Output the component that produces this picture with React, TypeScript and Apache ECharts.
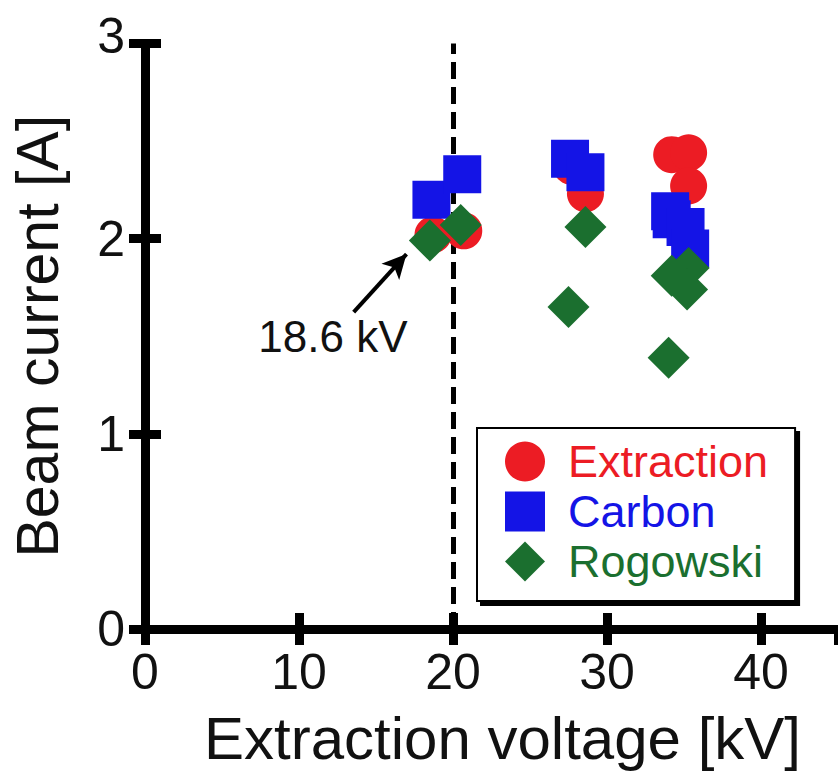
import React, { useEffect, useRef } from "react";
import * as echarts from "echarts";

const xTicks = [0, 10, 20, 30, 40];
const yTicks = [0, 1, 2, 3];

const extractionX = [18.7, 20.7, 27.7, 28.6, 34.2, 35.3, 35.3];
const extractionY = [2.02, 2.04, 2.37, 2.23, 2.43, 2.44, 2.27];

const carbonX = [18.6, 20.6, 27.6, 28.6, 34.1, 34.2, 35.1, 35.4];
const carbonY = [2.2, 2.33, 2.41, 2.34, 2.14, 2.1, 2.06, 1.95];

const rogowskiX = [18.5, 20.5, 27.5, 28.6, 34.0, 34.2, 35.3, 35.2];
const rogowskiY = [1.99, 2.07, 1.65, 2.06, 1.39, 1.81, 1.85, 1.74];

const thresholdVoltage = 20;
const arrowStart = [13.55, 1.624];
const arrowEnd = [16.98, 1.921];
const annotationPos = [12.2, 1.5];
const annotationText = "18.6 kV";

const RED = "#ec1c24";
const BLUE = "#1414e6";
const GREEN = "#1b6f2f";
const FONT = "'Liberation Sans', Arial, sans-serif";

const pairs = (xs: number[], ys: number[]) => xs.map((x, i) => [x, ys[i]]);

export default function App() {
  const ref = useRef<HTMLDivElement>(null);
  useEffect(() => {
    const chart = echarts.init(ref.current!, null, { renderer: "svg" });
    const frameLine = { show: true, lineStyle: { color: "#000", width: 9, cap: "square" } };
    const tick = { show: true, inside: true, length: 16, lineStyle: { color: "#000", width: 9 } };
    const yMax = yTicks[yTicks.length - 1];
    chart.setOption({
      animation: false,
      textStyle: { fontFamily: FONT },
      grid: { left: 145, top: 43.5, right: -1, bottom: 150, containLabel: false },
      xAxis: [
        {
          type: "value",
          min: 0,
          max: 45,
          interval: 10,
          position: "bottom",
          axisLine: frameLine,
          axisTick: tick,
          splitLine: { show: false },
          axisLabel: {
            showMaxLabel: false,
            fontSize: 50,
            color: "#111",
            margin: 18,
            fontFamily: FONT,
            formatter: (v: number) => (xTicks.includes(v) ? String(v) : ""),
          },
          name: "Extraction voltage [kV]",
          nameLocation: "middle",
          nameGap: 79,
          nameTextStyle: { fontSize: 60, color: "#111", fontFamily: FONT, padding: [0, 0, 0, 22] },
        },
        {
          type: "value",
          min: 0,
          max: 45,
          interval: 10,
          position: "top",
          axisLine: frameLine,
          axisTick: tick,
          splitLine: { show: false },
          axisLabel: { show: false },
        },
      ],
      yAxis: [
        {
          type: "value",
          min: 0,
          max: yMax,
          interval: 1,
          position: "left",
          axisLine: frameLine,
          axisTick: tick,
          splitLine: { show: false },
          axisLabel: {
            fontSize: 50,
            color: "#111",
            margin: 20,
            fontFamily: FONT,
            formatter: (v: number) =>
              yTicks.includes(v) ? (v === yMax ? "{up|" + v + "}" : String(v)) : "",
            rich: {
              up: { fontSize: 50, color: "#111", fontFamily: FONT, padding: [0, 0, 16, 0] },
            },
          },
          name: "Beam current [A]",
          nameLocation: "middle",
          nameRotate: 90,
          nameGap: 78,
          nameTextStyle: { fontSize: 59, color: "#111", fontFamily: FONT },
        },
        {
          type: "value",
          min: 0,
          max: yMax,
          interval: 1,
          position: "right",
          axisLine: frameLine,
          axisTick: tick,
          splitLine: { show: false },
          axisLabel: { show: false },
        },
      ],
      legend: {
        orient: "vertical",
        left: 477,
        top: 428,
        padding: [11, 27, 17, 28],
        itemGap: 5,
        itemWidth: 40,
        itemHeight: 40,
        selectedMode: false,
        backgroundColor: "#fff",
        borderColor: "#000",
        borderWidth: 2,
        shadowColor: "#000",
        shadowBlur: 0,
        shadowOffsetX: 4,
        shadowOffsetY: 4,
        textStyle: { fontSize: 45, fontFamily: FONT, padding: [0, 0, 0, 18] },
        data: [
          { name: "Extraction", textStyle: { color: RED } },
          { name: "Carbon", textStyle: { color: BLUE } },
          { name: "Rogowski", textStyle: { color: GREEN } },
        ],
      },
      series: [
        {
          name: "annotations",
          type: "scatter",
          data: [],
          z: 1,
          markLine: {
            z: 1,
            silent: true,
            symbol: ["none", "none"],
            label: { show: false },
            data: [
              {
                xAxis: thresholdVoltage,
                lineStyle: { color: "#000", width: 5, type: [17, 8] },
              },
              [
                {
                  coord: arrowStart,
                  symbol: "none",
                  lineStyle: { color: "#000", width: 4, type: "solid" },
                },
                { coord: arrowEnd, symbol: "arrow", symbolSize: [18, 24] },
              ],
            ],
          },
          markPoint: {
            silent: true,
            symbol: "circle",
            symbolSize: 2,
            itemStyle: { color: "rgba(0,0,0,0)" },
            data: [
              {
                coord: annotationPos,
                label: {
                  show: true,
                  position: "inside",
                  formatter: annotationText,
                  fontSize: 44,
                  color: "#111",
                  fontFamily: FONT,
                },
              },
            ],
          },
        },
        {
          name: "Extraction",
          type: "scatter",
          symbol: "circle",
          symbolSize: 37,
          itemStyle: { color: RED, opacity: 1 },
          data: pairs(extractionX, extractionY),
          z: 3,
        },
        {
          name: "Carbon",
          type: "scatter",
          symbol: "rect",
          symbolSize: 38,
          itemStyle: { color: BLUE, opacity: 1 },
          data: pairs(carbonX, carbonY),
          z: 4,
        },
        {
          name: "Rogowski",
          type: "scatter",
          symbol: "diamond",
          symbolSize: 42,
          itemStyle: { color: GREEN, opacity: 1 },
          data: pairs(rogowskiX, rogowskiY),
          z: 5,
        },
      ],
    });
    return () => chart.dispose();
  }, []);
  return (
    <div
      ref={ref}
      style={{ position: "absolute", left: 0, top: 0, width: 838, height: 779, background: "#fff" }}
    />
  );
}
